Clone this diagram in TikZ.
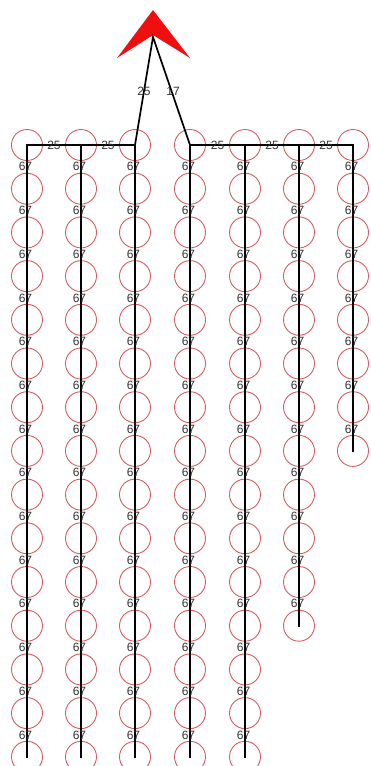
\documentclass[tikz,border=0pt]{standalone}
\usepackage{fontspec}
\setmainfont{Liberation Sans}
\usetikzlibrary{calc}
\definecolor{ringred}{RGB}{212, 92, 98}
\definecolor{labelgray}{RGB}{50, 50, 50}
\definecolor{arrowred}{RGB}{240, 15, 15}
\tikzset{
  ring/.style={circle, draw=ringred, line width=0.9pt, minimum size=31pt, inner sep=0pt},
  pipe/.style={line width=1.7pt, black, line cap=rect},
  lbl/.style={font=\fontsize{12}{13}\selectfont, text=labelgray, inner sep=0pt},
}

\begin{document}
\begin{tikzpicture}[x=1pt, y=-1pt]
  \useasboundingbox (0,0) rectangle (370,766);

  % North arrow
  \coordinate (apex) at (153,37);
  \fill[arrowred] ($(apex)+(0,-27)$) -- ($(apex)+(37,21)$) -- ($(apex)+(0,-2)$)
    -- ($(apex)+(-36,21)$) -- cycle;

  % Rings on every lateral
  \foreach \col/\xx/\last in {1/27/14, 2/81/14, 3/135/14, 4/190/14, 5/245/14, 6/299/11, 7/353/7} {
    \foreach \row in {0,...,\last}
      \node[ring] (r-\col-\row) at (\xx, 145+43.7*\row) {};
  }

  % Laterals
  \foreach \col/\last in {1/14, 2/14, 3/14, 4/14, 5/14, 6/11, 7/7} {
    \foreach \row [count=\prev from 0] in {1,...,\last}
      \draw[pipe] (r-\col-\prev.center) -- node[lbl, xshift=-1.5pt] {67} (r-\col-\row.center);
  }

  % Header pipes
  \draw[pipe] (r-1-0.center) -- node[lbl] {25} (r-2-0.center) -- node[lbl] {25} (r-3-0.center);
  \draw[pipe] (r-4-0.center) -- node[lbl] {25} (r-5-0.center) -- node[lbl] {25} (r-6-0.center)
    -- node[lbl] {25} (r-7-0.center);

  % Feed lines to the arrow
  \draw[pipe] (r-3-0.center) -- node[lbl] {25} (apex) -- node[lbl, xshift=1.5pt] {17} (r-4-0.center);
\end{tikzpicture}
\end{document}
